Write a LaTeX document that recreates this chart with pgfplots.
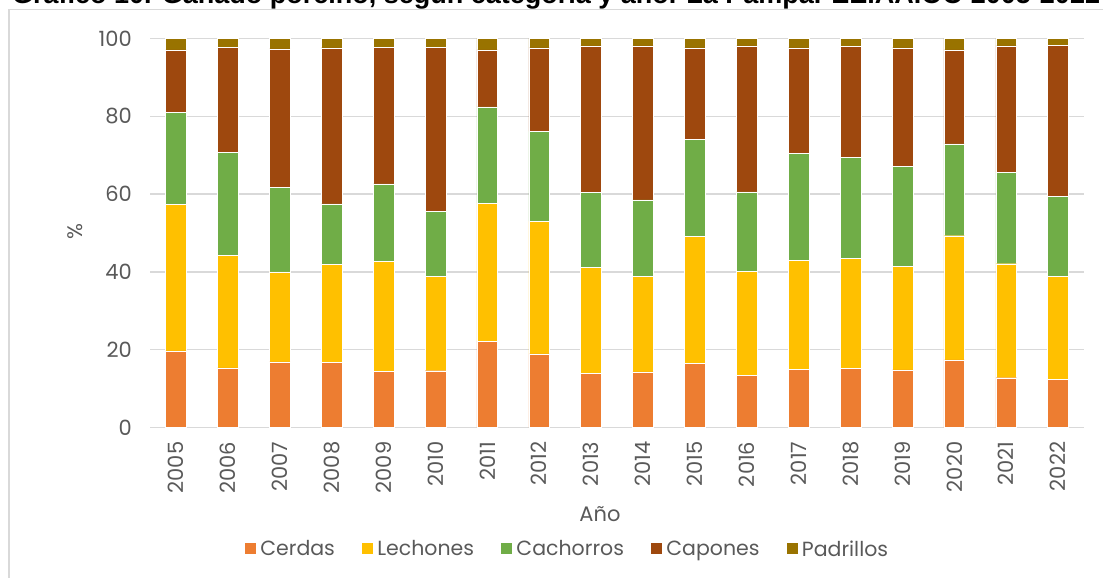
\documentclass[border=0pt]{standalone}
\usepackage{pgfplots}
\usepackage{pgfplotstable}
\pgfplotsset{compat=1.18}
\usepackage{fontspec}
\setmainfont{Poppins}
\newfontfamily\titlefont{Liberation Sans}[BoldFont={Liberation Sans Bold}]
\definecolor{cCerdas}{HTML}{ED7D31}
\definecolor{cLechones}{HTML}{FFC000}
\definecolor{cCachorros}{HTML}{70AD47}
\definecolor{cCapones}{HTML}{9E480E}
\definecolor{cPadrillos}{HTML}{997300}
\definecolor{txt}{HTML}{595959}
\definecolor{gridc}{HTML}{D9D9D9}
\pgfplotstableread{
x  cer  lec  cac  cap  pad
0  19.7 37.7 23.7 16.0 2.9
1  15.3 29.0 26.5 27.0 2.2
2  16.9 23.1 21.7 35.6 2.7
3  16.7 25.3 15.5 40.1 2.4
4  14.4 28.4 19.8 35.2 2.2
5  14.6 24.2 16.8 42.2 2.2
6  22.2 35.5 24.7 14.7 2.9
7  18.9 34.1 23.1 21.5 2.4
8  14.0 27.1 19.3 37.7 1.9
9  14.3 24.6 19.6 39.6 1.9
10 16.5 32.7 24.8 23.6 2.4
11 13.4 26.7 20.5 37.5 1.9
12 14.9 28.1 27.5 27.1 2.4
13 15.2 28.3 25.9 28.5 2.1
14 14.8 26.7 25.7 30.4 2.4
15 17.4 31.9 23.6 24.2 2.9
16 12.8 29.3 23.5 32.5 1.9
17 12.3 26.6 20.5 38.9 1.7
}\datatable
\begin{document}
\begin{tikzpicture}
\useasboundingbox (0pt,0pt) rectangle (1103pt,578pt);
\draw[gridc, line width=1.5pt] (9pt,-5pt) -- (9pt,568.5pt) -- (1110pt,568.5pt);
\node[anchor=base west, inner sep=0pt, font={\titlefont\bfseries\fontsize{27}{30}\selectfont}] at (12pt,574pt)
  {Gráfico 10. Ganado porcino, según categoría y año. La Pampa. EE.AA.OO 2005-2022};
\begin{axis}[
  at={(150pt,150.5pt)}, anchor=south west,
  scale only axis, width=934pt, height=389pt,
  ybar stacked, bar width=0.4,
  xmin=-0.5, xmax=17.5, ymin=0, ymax=100,
  xtick={0,...,17},
  xticklabels={2005,2006,2007,2008,2009,2010,2011,2012,2013,2014,2015,2016,2017,2018,2019,2020,2021,2022},
  ytick={0,20,40,60,80,100},
  ymajorgrids, grid style={gridc, line width=1.5pt},
  axis line style={draw=none},
  major tick length=0pt,
  tick label style={font=\fontsize{21}{23}\selectfont, text=txt},
  /pgf/number format/assume math mode=true,
  x tick label style={rotate=90, anchor=east, inner sep=0pt, xshift=-14pt},
  y tick label style={anchor=east, inner sep=0pt, xshift=-18pt},
  legend image code/.code={\fill[#1] (0pt,-5.5pt) rectangle (12pt,6.5pt);},
  legend columns=5,
  legend style={at={(0.4465,-0.3123)}, anchor=center, draw=none, fill=none,
    font=\fontsize{20.5}{22}\selectfont, text=txt,
    /tikz/every even column/.append style={column sep=24pt},
    /tikz/every odd column/.append style={column sep=2pt}},
  legend cell align=left,
  every axis plot/.append style={draw=white, line width=0.4pt},
]
\addplot[fill=cCerdas, draw=white] table[x=x,y=cer]{\datatable};
\addplot[fill=cLechones, draw=white] table[x=x,y=lec]{\datatable};
\addplot[fill=cCachorros, draw=white] table[x=x,y=cac]{\datatable};
\addplot[fill=cCapones, draw=white] table[x=x,y=cap]{\datatable};
\addplot[fill=cPadrillos, draw=white] table[x=x,y=pad]{\datatable};
\legend{Cerdas,Lechones,Cachorros,Capones,Padrillos}
\end{axis}
\node[rotate=90, text=txt, font=\fontsize{21}{23}\selectfont] at (75pt,346pt) {\%};
\node[text=txt, font=\fontsize{21}{23}\selectfont] at (600pt,64pt) {Año};
\end{tikzpicture}
\end{document}
